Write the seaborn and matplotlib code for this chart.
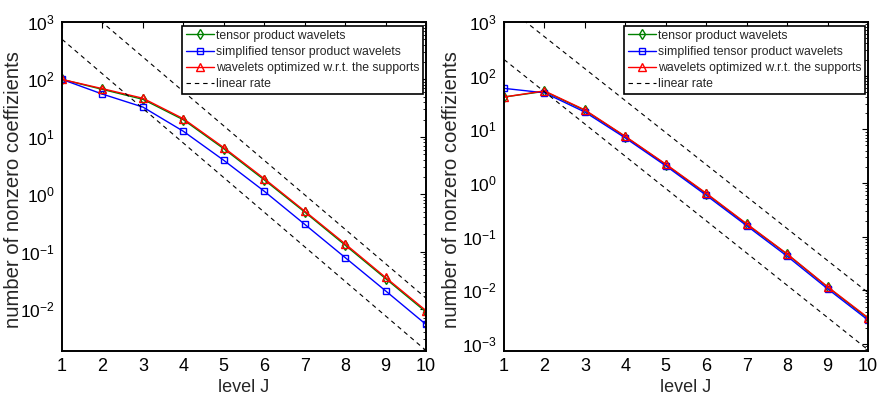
import matplotlib
matplotlib.use("Agg")
import matplotlib.pyplot as plt
import seaborn as sns
from matplotlib.ticker import LogLocator, NullFormatter, FixedLocator

# ---------------- data ----------------
levels = [1, 2, 3, 4, 5, 6, 7, 8, 9, 10]

left_tensor = [100, 67, 45, 19.8, 6.2, 1.78, 0.49, 0.13, 0.034, 0.0089]
left_simplified = [100, 55.5, 33, 12.5, 3.9, 1.13, 0.30, 0.079, 0.0208, 0.0054]
left_optimized = [100, 69, 47, 20.7, 6.5, 1.87, 0.51, 0.137, 0.0356, 0.0094]

right_tensor = [40, 51, 22.5, 7.3, 2.2, 0.63, 0.17, 0.047, 0.0115, 0.0030]
right_simplified = [58, 48, 21, 6.9, 2.09, 0.59, 0.16, 0.0433, 0.0107, 0.0028]
right_optimized = [40, 52, 23, 7.4, 2.25, 0.645, 0.174, 0.0478, 0.0117, 0.0031]

# "linear rate" reference lines: values at the end levels
rate_levels = [1, 10]
left_rate_upper = [3900, 0.0155]
left_rate_lower = [500, 0.0019]
right_rate_upper = [2100, 0.0091]
right_rate_lower = [200, 0.00078]

series_labels = ["tensor product wavelets",
                 "simplified tensor product wavelets",
                 "wavelets optimized w.r.t. the supports",
                 "linear rate"]
xlabel = "level J"
ylabel = "number of nonzero coeffizients"

# ---------------- style ----------------
sns.set_style("white")
plt.rcParams["font.family"] = ["Liberation Sans", "DejaVu Sans"]
plt.rcParams["mathtext.fontset"] = "custom"
plt.rcParams["mathtext.rm"] = "Liberation Sans"
plt.rcParams["mathtext.it"] = "Liberation Sans:italic"
plt.rcParams["axes.unicode_minus"] = False

fig = plt.figure(figsize=(8.8, 3.96), dpi=100)
W, H = 880, 396
ax_l = fig.add_axes([62 / W, 1 - 351 / H, 364 / W, 329 / H])
ax_r = fig.add_axes([504 / W, 1 - 351 / H, 364 / W, 329 / H])

colors = ["#008000", "#0000FF", "#FF0000"]
markers = ["d", "s", "^"]
msizes = [5, 4.5, 6]


def draw(ax, series, rates, ylim, ylab_x):
    handles = []
    for vals, c, m, ms, lab in zip(series, colors, markers, msizes, series_labels[:3]):
        sns.lineplot(x=levels, y=vals, ax=ax, color=c, marker=m,
                     markerfacecolor="none", markeredgecolor=c,
                     markeredgewidth=1.0, markersize=ms, linewidth=1.0)
        handles.append(ax.get_lines()[-1])
    for i, r in enumerate(rates):
        sns.lineplot(x=rate_levels, y=r, ax=ax, color="black",
                     linewidth=0.8, linestyle=(0, (4, 3.5)))
        if i == 0:
            handles.append(ax.get_lines()[-1])
    ax.set_yscale("log")
    ax.set_xlim(1, 10)
    ax.set_ylim(*ylim)
    ax.xaxis.set_major_locator(FixedLocator(levels))
    ax.yaxis.set_major_locator(LogLocator(base=10, numticks=20))
    ax.yaxis.set_minor_locator(LogLocator(base=10, subs=range(2, 10), numticks=20))
    ax.yaxis.set_minor_formatter(NullFormatter())
    ax.tick_params(axis="both", which="both", direction="in",
                   top=True, right=True, colors="black")
    ax.tick_params(axis="x", labelsize=13)
    ax.tick_params(axis="y", labelsize=12.5)
    ax.tick_params(which="major", length=4.5, width=0.8, pad=5)
    ax.tick_params(which="minor", length=2.5, width=0.6)
    for s in ax.spines.values():
        s.set_color("black")
        s.set_linewidth(1.4)
    ax.set_xlabel(xlabel, fontsize=13, labelpad=3)
    ax.set_ylabel(ylabel, fontsize=14.6)
    ax.yaxis.set_label_coords(ylab_x, 0.492)
    leg = ax.legend(handles, series_labels, loc="upper right",
                    bbox_to_anchor=(0.992, 0.988), borderaxespad=0,
                    fontsize=8.8, frameon=True, fancybox=False,
                    handlelength=2.3, handletextpad=0.15,
                    labelspacing=0.35, borderpad=0.3)
    leg.get_frame().set_edgecolor("black")
    leg.get_frame().set_linewidth(1.2)
    leg.get_frame().set_alpha(1)


draw(ax_l, [left_tensor, left_simplified, left_optimized],
     [left_rate_upper, left_rate_lower], (10 ** -2.73, 1e3), -0.108)
draw(ax_r, [right_tensor, right_simplified, right_optimized],
     [right_rate_upper, right_rate_lower], (10 ** -3.13, 1e3), -0.118)

fig.savefig("out.png", dpi=100)
